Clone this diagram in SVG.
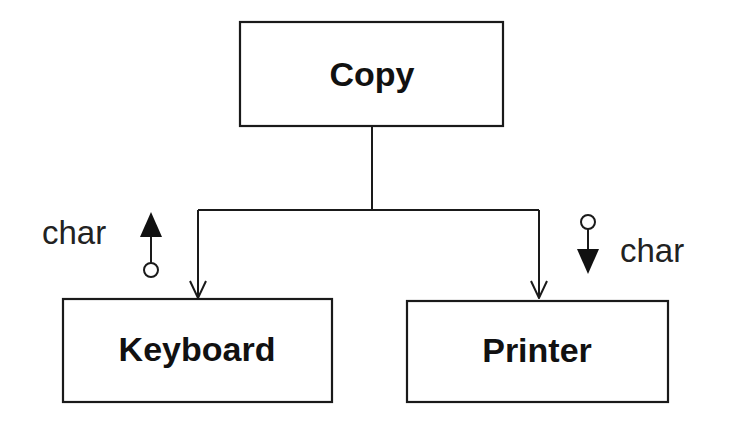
<svg xmlns="http://www.w3.org/2000/svg" width="736" height="425" viewBox="0 0 736 425">
<style>
.box{fill:#fff;stroke:#1a1a1a;stroke-width:2.2}
.lbl{font-family:"Liberation Sans",Arial,sans-serif;font-weight:bold;font-size:34px;fill:#111;text-anchor:middle}
.ch{font-family:"Liberation Sans",Arial,sans-serif;font-size:33px;fill:#222}
.ln{fill:none;stroke:#1a1a1a;stroke-width:2}
</style>
<defs>
<marker id="open" viewBox="0 0 20 20" refX="19" refY="10" markerWidth="20" markerHeight="20" markerUnits="userSpaceOnUse" orient="auto">
<path d="M2,2 L19,10 L2,18" fill="none" stroke="#1a1a1a" stroke-width="2"/>
</marker>
</defs>
<rect width="736" height="425" fill="#fff"/>
<g id="connectors">
<path class="ln" d="M372,126 V210"/>
<path class="ln" d="M198,210 H539"/>
<path class="ln" d="M198,210 V298" marker-end="url(#open)"/>
<path class="ln" d="M539,210 V298" marker-end="url(#open)"/>
</g>
<g id="copy">
<rect class="box" x="240" y="22" width="263" height="104"/>
<text class="lbl" x="372" y="86">Copy</text>
</g>
<g id="keyboard">
<rect class="box" x="63" y="299" width="269" height="103"/>
<text class="lbl" x="197" y="361">Keyboard</text>
</g>
<g id="printer">
<rect class="box" x="407" y="301" width="261" height="101"/>
<text class="lbl" x="537" y="362">Printer</text>
</g>
<g id="flow-left">
<text class="ch" x="42" y="244">char</text>
<line class="ln" x1="151" y1="236" x2="151" y2="263"/>
<polygon points="151,212 140,237 162,237" fill="#111"/>
<circle cx="151" cy="270" r="7" fill="#fff" stroke="#1a1a1a" stroke-width="2"/>
</g>
<g id="flow-right">
<text class="ch" x="620" y="262">char</text>
<circle cx="588" cy="222" r="7" fill="#fff" stroke="#1a1a1a" stroke-width="2"/>
<line class="ln" x1="588" y1="229" x2="588" y2="250"/>
<polygon points="588,274 577,249 599,249" fill="#111"/>
</g>
</svg>
